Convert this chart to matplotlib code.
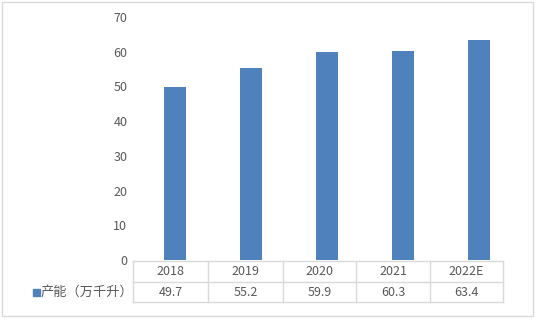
import matplotlib.pyplot as plt
from matplotlib.patches import Rectangle

plt.rcParams['font.family'] = ['Noto Sans CJK SC', 'DejaVu Sans']

# --- data ---
years = ['2018', '2019', '2020', '2021', '2022E']
capacity = [49.7, 55.2, 59.9, 60.3, 63.4]
series_name = '产能（万千升）'
y_ticks = [0, 10, 20, 30, 40, 50, 60, 70]

bar_color = '#4F81BD'
text_color = '#595959'
line_color = '#D9D9D9'

W, H = 536, 321
fig = plt.figure(figsize=(W / 100, H / 100), dpi=100)

# overlay in pixel coordinates for frame + data table
bg = fig.add_axes([0, 0, 1, 1])
bg.set_xlim(0, W)
bg.set_ylim(H, 0)
bg.axis('off')
bg.add_patch(Rectangle((2, 2), 531, 314, fill=False, edgecolor=line_color, lw=1))

# bar chart
ax = fig.add_axes([137 / W, (H - 260) / H, 380 / W, 243 / H])
x = range(len(years))
ax.bar(x, capacity, width=0.3, color=bar_color)
ax.set_xlim(-0.5, len(years) - 0.5)
ax.set_ylim(0, 70)
ax.set_yticks(y_ticks)
ax.set_xticks([])
ax.tick_params(axis='y', length=0, pad=7, labelsize=9, labelcolor=text_color)
for s in ax.spines.values():
    s.set_visible(False)
ax.patch.set_alpha(0)

# data table
col_edges = [133, 208, 283, 356, 430, 503]
row_y = [261, 282, 302]
for yy in row_y:
    bg.plot([col_edges[0], col_edges[-1]], [yy, yy], color=line_color, lw=1)
for xx in col_edges:
    bg.plot([xx, xx], [row_y[0], row_y[-1]], color=line_color, lw=1)
for i, (yr, v) in enumerate(zip(years, capacity)):
    cx = (col_edges[i] + col_edges[i + 1]) / 2
    bg.text(cx, (row_y[0] + row_y[1]) / 2, yr, ha='center', va='center',
            fontsize=9, color=text_color)
    bg.text(cx, (row_y[1] + row_y[2]) / 2, f'{v}', ha='center', va='center',
            fontsize=9, color=text_color)
ry = (row_y[1] + row_y[2]) / 2
bg.add_patch(Rectangle((33, ry - 3.5), 7, 7, color=bar_color))
bg.text(41, ry, series_name, ha='left', va='center', fontsize=9.5, color=text_color)

fig.savefig('out.png', dpi=100)
